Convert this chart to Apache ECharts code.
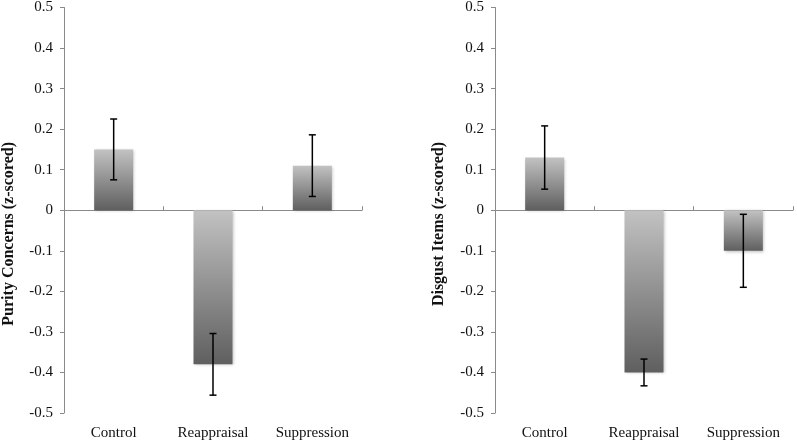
<!DOCTYPE html>
<html>
<head>
<meta charset="utf-8">
<script src="https://cdn.jsdelivr.net/npm/echarts@6/dist/echarts.min.js"></script>
<style>html,body{margin:0;padding:0;background:#fff;}#c{width:797px;height:445px;}</style>
</head>
<body>
<div id="c"></div>
<script>
const categories = ['Control', 'Reappraisal', 'Suppression'];
const purityMeans = [0.15, -0.38, 0.11];
const purityErr = [0.075, 0.076, 0.076];
const disgustMeans = [0.13, -0.40, -0.10];
const disgustErr = [0.078, 0.033, 0.09];
const yTitles = ['Purity Concerns (z-scored)', 'Disgust Items (z-scored)'];

const serif = '"Liberation Serif", "DejaVu Serif", serif';
const axisGray = '#8a8a8a';

function errData(means, errs) {
  return means.map((m, i) => [i, m - errs[i], m + errs[i]]);
}

function errRender(params, api) {
  const x = api.value(0);
  const lo = api.coord([x, api.value(1)]);
  const hi = api.coord([x, api.value(2)]);
  const hw = 3.5;
  const st = { stroke: '#000', lineWidth: 1.5 };
  return {
    type: 'group',
    children: [
      { type: 'line', shape: { x1: lo[0], y1: lo[1], x2: hi[0], y2: hi[1] }, style: st },
      { type: 'line', shape: { x1: lo[0] - hw, y1: lo[1], x2: lo[0] + hw, y2: lo[1] }, style: st },
      { type: 'line', shape: { x1: hi[0] - hw, y1: hi[1], x2: hi[0] + hw, y2: hi[1] }, style: st }
    ]
  };
}

const barColor = {
  type: 'linear', x: 0, y: 0, x2: 0, y2: 1,
  colorStops: [{ offset: 0, color: '#c2c2c2' }, { offset: 1, color: '#5f5f5f' }]
};

const grids = [
  { left: 64, top: 7, width: 298, height: 406 },
  { left: 495, top: 7, width: 298, height: 406 }
];

const xAxes = [];
const yAxes = [];
grids.forEach((g, gi) => {
  xAxes.push({
    type: 'category', gridIndex: gi, data: categories, position: 'bottom',
    axisLine: { show: false, onZero: false }, axisTick: { show: false },
    axisLabel: { color: '#111', fontFamily: serif, fontSize: 15, margin: 13 }
  });
  xAxes.push({
    type: 'category', gridIndex: gi, data: categories,
    axisLine: { show: true, onZero: true, lineStyle: { color: axisGray, width: 1 } },
    axisTick: { show: true, length: 4, lineStyle: { color: axisGray } },
    axisLabel: { show: false }
  });
  yAxes.push({
    type: 'value', gridIndex: gi, min: -0.5, max: 0.5, interval: 0.1,
    splitLine: { show: false },
    axisLine: { show: true, lineStyle: { color: axisGray, width: 1 } },
    axisTick: { show: true, length: 4, lineStyle: { color: axisGray } },
    axisLabel: {
      color: '#111', fontFamily: serif, fontSize: 15, margin: 11,
      formatter: v => Math.abs(v) < 1e-9 ? '0' : v.toFixed(1)
    }
  });
});

const datasets = [[purityMeans, purityErr], [disgustMeans, disgustErr]];
const series = [];
datasets.forEach((d, gi) => {
  series.push({
    type: 'bar', xAxisIndex: gi * 2, yAxisIndex: gi, data: d[0], barWidth: 39,
    itemStyle: { color: barColor, shadowBlur: 3, shadowColor: 'rgba(0,0,0,0.25)', shadowOffsetX: 1, shadowOffsetY: 1 },
    z: 1
  });
  series.push({
    type: 'custom', xAxisIndex: gi * 2, yAxisIndex: gi, data: errData(d[0], d[1]),
    renderItem: errRender, z: 5
  });
});

const chart = echarts.init(document.getElementById('c'), null, { renderer: 'canvas' });
chart.setOption({
  animation: false,
  backgroundColor: '#fff',
  grid: grids,
  xAxis: xAxes,
  yAxis: yAxes,
  series: series,
  graphic: [
    { type: 'text', left: 1, top: 142, rotation: Math.PI / 2,
      style: { text: yTitles[0], font: 'bold 16px ' + serif, fill: '#111' } },
    { type: 'text', left: 431, top: 142, rotation: Math.PI / 2,
      style: { text: yTitles[1], font: 'bold 16px ' + serif, fill: '#111' } }
  ]
});
</script>
</body>
</html>
